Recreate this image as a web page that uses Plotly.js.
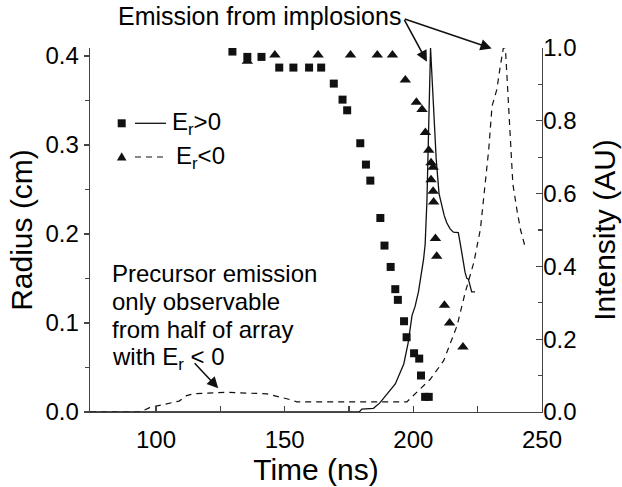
<!DOCTYPE html>
<html>
<head>
<meta charset="utf-8">
<script src="https://cdn.plot.ly/plotly-3.0.1.min.js"></script>
<style>html,body{margin:0;padding:0;background:#fff;}#chart{width:622px;height:487px;}</style>
</head>
<body>
<div id="chart"></div>
<script>
// ---- Data ----
// Radius of imploding wires, E_r > 0 (squares)
var timeSquares = [129.7, 135.5, 141.0, 147.9, 153.4, 159.5, 164.2, 169.1, 172.5, 174.3, 179.4, 181.6, 183.3, 187.2, 188.8, 191.2, 193.0, 194.0, 196.4, 197.4, 200.3, 202.3, 203.0, 204.6, 206.0];
var radiusSquares = [0.405, 0.399, 0.399, 0.387, 0.387, 0.387, 0.387, 0.369, 0.351, 0.339, 0.302, 0.278, 0.260, 0.218, 0.187, 0.163, 0.138, 0.126, 0.102, 0.084, 0.066, 0.060, 0.041, 0.017, 0.017];
// Radius, E_r < 0 (triangles)
var timeTriangles = [135.5, 146.2, 163.0, 175.6, 186.0, 191.9, 196.9, 201.2, 203.4, 204.7, 206.0, 206.9, 207.7, 206.9, 207.7, 207.9, 208.6, 209.1, 212.1, 214.1, 219.3];
var radiusTriangles = [0.394, 0.401, 0.401, 0.401, 0.401, 0.401, 0.373, 0.348, 0.340, 0.314, 0.294, 0.280, 0.275, 0.261, 0.248, 0.236, 0.195, 0.175, 0.120, 0.100, 0.073];
// Emission intensity, E_r > 0 (solid line)
var timeSolid = [74.35, 179.0, 180.0, 184.5, 187.0, 190.0, 193.0, 196.3, 198.0, 199.5, 200.7, 202.0, 203.0, 204.0, 204.6, 205.3, 206.7, 208.9, 210.0, 211.0, 212.0, 213.0, 214.3, 215.6, 217.5, 218.8, 220.1, 220.8, 221.4, 222.7, 224.0];
var intensitySolid = [0, 0, 0.008, 0.010, 0.025, 0.050, 0.077, 0.132, 0.190, 0.265, 0.290, 0.330, 0.370, 0.420, 0.460, 0.580, 1.000, 0.695, 0.600, 0.565, 0.540, 0.520, 0.503, 0.494, 0.493, 0.440, 0.384, 0.367, 0.365, 0.330, 0.330];
// Emission intensity, E_r < 0 (dashed line)
var timeDashed = [74.35, 93.8, 97.5, 109.0, 111.9, 114.5, 127.5, 143.1, 152.1, 154.7, 197.5, 206.6, 211.8, 217.0, 220.2, 223.5, 226.1, 228.0, 229.3, 230.6, 232.5, 233.8, 235.0, 235.8, 236.2, 237.1, 237.8, 238.7, 240.4, 241.7, 243.6];
var intensityDashed = [0, 0, 0.012, 0.030, 0.045, 0.050, 0.054, 0.050, 0.034, 0.028, 0.028, 0.090, 0.141, 0.237, 0.329, 0.410, 0.503, 0.626, 0.720, 0.840, 0.887, 0.950, 1.000, 1.000, 0.950, 0.840, 0.750, 0.626, 0.550, 0.500, 0.450];

// Tick labels
var xTicks = [100, 150, 200, 250];
var xTickText = ['100', '150', '200', '250'];
var radiusTicks = [0.0, 0.1, 0.2, 0.3, 0.4];
var radiusTickText = ['0.0', '0.1', '0.2', '0.3', '0.4'];
var intensityTicks = [0.0, 0.2, 0.4, 0.6, 0.8, 1.0];
var intensityTickText = ['0.0', '0.2', '0.4', '0.6', '0.8', '1.0'];

// Annotation text lines
var precursorLines = ['Precursor emission', 'only observable', 'from half of array', 'with E<sub>r</sub> &lt; 0'];
var precursorLineY = [273, 301, 329, 358];

// ---- Layout helpers (pixel -> paper) ----
var L = 90, T = 48, W = 452, H = 364;
function px(x) { return (x - L) / W; }
function py(y) { return (T + H - y) / H; }

var FONT = 'Liberation Sans, Arial, Helvetica, sans-serif';
var INK = '#111111';
var AXC = '#444444';

var traces = [
  { x: timeSolid, y: intensitySolid, type: 'scatter', mode: 'lines', yaxis: 'y',
    line: { color: INK, width: 1.3 }, showlegend: false, name: 'E_r>0 intensity' },
  { x: timeDashed, y: intensityDashed, type: 'scatter', mode: 'lines', yaxis: 'y',
    line: { color: INK, width: 1.2, dash: '6px,5px' }, showlegend: false, name: 'E_r<0 intensity' },
  { x: timeSquares, y: radiusSquares, type: 'scatter', mode: 'markers', yaxis: 'y2',
    marker: { symbol: 'square', size: 8, color: INK }, showlegend: false, name: 'E_r>0 radius' },
  { x: timeTriangles, y: radiusTriangles, type: 'scatter', mode: 'markers', yaxis: 'y2',
    marker: { symbol: 'triangle-up', size: 10, color: INK }, showlegend: false, name: 'E_r<0 radius' }
];

var annotations = [
  { xref: 'paper', yref: 'paper', x: px(169.5), y: py(123.5), xanchor: 'left', yanchor: 'middle',
    text: 'E<sub>r</sub>&gt;0', showarrow: false, font: { size: 24, family: FONT, color: '#000' } },
  { xref: 'paper', yref: 'paper', x: px(174), y: py(157), xanchor: 'left', yanchor: 'middle',
    text: 'E<sub>r</sub>&lt;0', showarrow: false, font: { size: 24, family: FONT, color: '#000' } },
  { xref: 'paper', yref: 'paper', x: px(403), y: py(16), xanchor: 'right', yanchor: 'middle',
    text: 'Emission from implosions', showarrow: false, font: { size: 25, family: FONT, color: '#000' } },
  { xref: 'x', yref: 'paper', x: 205.3, y: py(61.7), ax: -23.4, ay: -43.4, text: '',
    showarrow: true, arrowhead: 2, arrowsize: 1.4, arrowwidth: 1.6, arrowcolor: INK, standoff: 0, startstandoff: 0 },
  { xref: 'x', yref: 'paper', x: 230.45, y: py(48.5), ax: -88.4, ay: -30, text: '',
    showarrow: true, arrowhead: 2, arrowsize: 1.4, arrowwidth: 1.6, arrowcolor: INK, standoff: 0, startstandoff: 0 },
  { xref: 'x', yref: 'paper', x: 124.2, y: py(388.3), ax: -25, ay: -26.6, text: '',
    showarrow: true, arrowhead: 2, arrowsize: 1.4, arrowwidth: 1.6, arrowcolor: INK, standoff: 0, startstandoff: 0 }
];
for (var i = 0; i < precursorLines.length; i++) {
  annotations.push({ xref: 'paper', yref: 'paper', x: px(109.5), y: py(precursorLineY[i]),
    xanchor: 'left', yanchor: 'middle', align: 'left', text: precursorLines[i],
    showarrow: false, font: { size: 24, family: FONT, color: '#000' } });
}

var layout = {
  width: 622, height: 487,
  margin: { l: L, r: 622 - L - W, t: T, b: 487 - T - H },
  paper_bgcolor: '#ffffff', plot_bgcolor: '#ffffff',
  font: { family: FONT, color: '#000000', size: 23 },
  showlegend: false,
  xaxis: {
    range: [74.35, 250.02], showgrid: false, zeroline: false,
    showline: true, linecolor: AXC, linewidth: 1.4,
    tickmode: 'array', tickvals: xTicks, ticktext: xTickText,
    ticks: 'inside', ticklen: 6, tickwidth: 1.2, tickcolor: AXC,
    ticklabelstandoff: 6,
    minor: { tickmode: 'array', tickvals: [125, 175, 225], ticks: 'inside', ticklen: 6, tickwidth: 1.2, tickcolor: AXC },
    tickfont: { size: 24, family: FONT, color: '#000' },
    title: { text: 'Time (ns)', font: { size: 30, family: FONT, color: '#000' }, standoff: 4 }
  },
  yaxis: {
    side: 'right', anchor: 'x', range: [0, 1.0], showgrid: false, zeroline: false,
    showline: true, linecolor: AXC, linewidth: 1.4,
    tickmode: 'array', tickvals: intensityTicks, ticktext: intensityTickText,
    ticks: 'inside', ticklen: 6, tickwidth: 1.2, tickcolor: AXC,
    ticklabelstandoff: -5,
    minor: { tickmode: 'array', tickvals: [0.1, 0.3, 0.5, 0.7, 0.9], ticks: 'inside', ticklen: 4, tickwidth: 1.2, tickcolor: AXC },
    tickfont: { size: 24, family: FONT, color: '#000' },
    title: { text: 'Intensity (AU)', font: { size: 30, family: FONT, color: '#000' }, standoff: 18 }
  },
  yaxis2: {
    side: 'left', overlaying: 'y', anchor: 'x', range: [0, 0.409], showgrid: false, zeroline: false,
    showline: true, linecolor: AXC, linewidth: 1.4,
    tickmode: 'array', tickvals: radiusTicks, ticktext: radiusTickText,
    ticks: 'outside', ticklen: 5, tickwidth: 1.2, tickcolor: AXC,
    minor: { tickmode: 'array', tickvals: [0.05, 0.15, 0.25, 0.35], ticks: 'outside', ticklen: 4, tickwidth: 1.2, tickcolor: AXC },
    tickfont: { size: 24, family: FONT, color: '#000' },
    title: { text: 'Radius (cm)', font: { size: 30, family: FONT, color: '#000' }, standoff: 4 }
  },
  shapes: [
    // legend keys
    { type: 'rect', xref: 'paper', yref: 'paper', x0: px(117.7), x1: px(125.7), y0: py(127.3), y1: py(119.3),
      fillcolor: INK, line: { width: 0 } },
    { type: 'line', xref: 'paper', yref: 'paper', x0: px(135), x1: px(166), y0: py(123.3), y1: py(123.3),
      line: { color: INK, width: 1.3 } },
    { type: 'path', xref: 'paper', yref: 'paper',
      path: 'M ' + px(121.7) + ' ' + py(152.2) + ' L ' + px(126.5) + ' ' + py(160.5) + ' L ' + px(116.9) + ' ' + py(160.5) + ' Z',
      fillcolor: INK, line: { width: 0 } },
    { type: 'line', xref: 'paper', yref: 'paper', x0: px(135), x1: px(168), y0: py(157), y1: py(157),
      line: { color: INK, width: 1.2, dash: '6px,5px' } }
  ],
  annotations: annotations
};

Plotly.newPlot('chart', traces, layout, { displayModeBar: false, staticPlot: true });
</script>
</body>
</html>
